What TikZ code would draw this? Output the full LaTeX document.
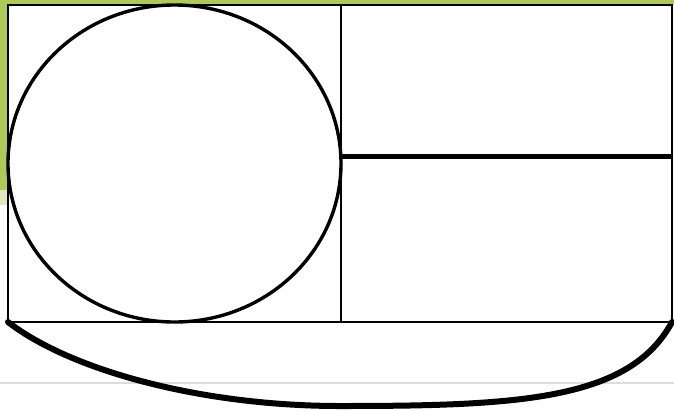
\documentclass[tikz,border=0pt]{standalone}
\usepackage{xcolor}
\usepackage{tikz}
\usetikzlibrary{positioning, calc}
\definecolor{slidegreen}{HTML}{AFC957}
\definecolor{rulegrey}{HTML}{DCDCE4}

\begin{document}
\begin{tikzpicture}[
    x=1pt, y=-1pt,
    frame/.style={draw=black, line width=1.8pt},
    divider/.style={draw=black, line width=1.6pt},
    outline/.style={draw=black, line width=3.4pt},
    bar/.style={draw=black, line width=5pt},
    hull/.style={draw=black, line width=6pt, line cap=round}
]
    \useasboundingbox (0,0) rectangle (674,410);

    % Background strips
    \fill[slidegreen] (0,0) rectangle (674,5);
    \fill[slidegreen] (0,0) rectangle (8,190);
    \fill[slidegreen!40] (0,190) rectangle (8,205);
    \draw[rulegrey, line width=1.5pt] (0,383) -- (674,383);

    % Corners
    \coordinate (nw) at (8,5);
    \coordinate (se) at (672,322);
    \coordinate (sw) at (8,322);
    \coordinate (mt) at (341,5);
    \coordinate (mb) at (341,322);
    \coordinate (ml) at (341,156);
    \coordinate (mr) at (672,156);

    % Frame and panels
    \fill[white] (nw) rectangle (se);
    \draw[frame] (nw) rectangle (se);
    \draw[divider] (mt) -- (mb);
    \draw[bar] (ml) -- (mr);

    % Circle in left panel
    \draw[outline] (174.5,163.5) ellipse [x radius=166.5, y radius=158.5];

    % Bottom curve
    \coordinate (low) at (340,406);
    \draw[hull] (sw) .. controls (70,370) and (200,406) .. (low)
                     .. controls (520,406) and (630,400) .. (se);
\end{tikzpicture}
\end{document}
